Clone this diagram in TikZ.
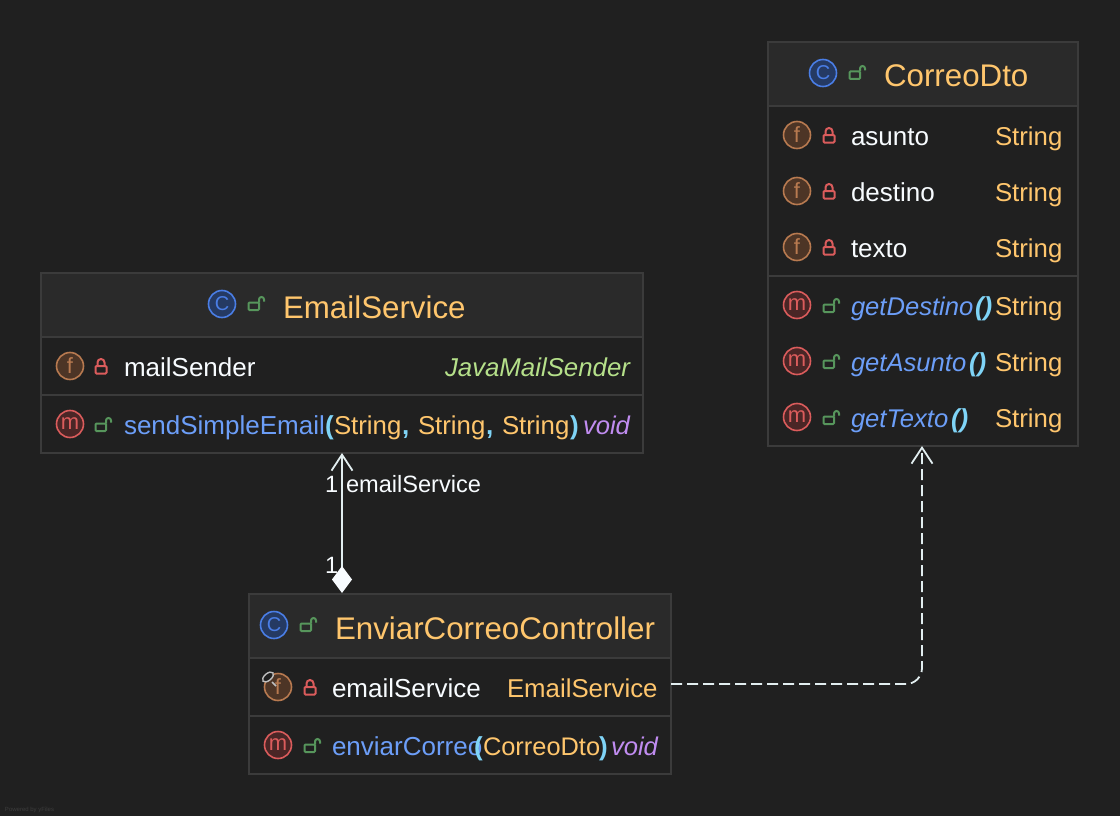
\documentclass[tikz,border=0pt]{standalone}
\usepackage{fontspec}
\setmainfont{Liberation Sans}
\usetikzlibrary{arrows.meta}
\definecolor{bgc}{HTML}{202020}
\definecolor{headc}{HTML}{2A2A2A}
\definecolor{linec}{HTML}{3B3B3B}
\definecolor{wht}{HTML}{F8FCFF}
\definecolor{edgec}{HTML}{E2EEF0}
\definecolor{yel}{HTML}{FFC66D}
\definecolor{blu}{HTML}{6C9EF8}
\definecolor{parc}{HTML}{7FD4F7}
\definecolor{pur}{HTML}{C08CF0}
\definecolor{grn}{HTML}{B5E08A}
\definecolor{lockr}{HTML}{DB5C5C}
\definecolor{lockg}{HTML}{57965C}
\definecolor{cblue}{HTML}{4A7EE6}
\definecolor{cfill}{HTML}{253A63}
\definecolor{fbrown}{HTML}{B87A50}
\definecolor{ffill}{HTML}{4D3526}
\definecolor{mfill}{HTML}{4A2626}
\tikzset{
  x=1pt,y=-1pt,
  umlbox/.style={draw=linec,line width=1.5pt,fill=bgc,minimum width=#1,inner sep=0,outer sep=0},
  txtbase/.style={anchor=base west,inner sep=0,outer sep=0,font=\fontsize{26}{30}\selectfont},
  titletxt/.style={txtbase,text=yel,font=\fontsize{31.3}{36}\selectfont},
  nametxt/.style={txtbase,text=wht},
  typetxt/.style={txtbase,text=yel,font=\fontsize{25.8}{30}\selectfont},
  methtxt/.style={txtbase,text=blu},
  imethtxt/.style={txtbase,text=blu,font=\fontsize{25.6}{30}\selectfont\itshape},
  parentxt/.style={txtbase,text=parc,font=\fontsize{26}{30}\selectfont\bfseries},
  iparentxt/.style={txtbase,text=parc,font=\fontsize{26}{30}\selectfont\bfseries\itshape},
  voidtxt/.style={txtbase,text=pur,font=\fontsize{25.6}{30}\selectfont\itshape},
  grntxt/.style={txtbase,text=grn,font=\fontsize{25.8}{30}\selectfont\itshape},
  lbltxt/.style={txtbase,text=wht,font=\fontsize{23.6}{28}\selectfont},
  badgebase/.style={circle,minimum size=27pt,inner sep=0,line width=1.6pt,font=\fontsize{#1}{24}\selectfont},
  cicon/.style={badgebase=20,draw=cblue,text=cblue,fill=cfill},
  ficon/.style={badgebase=22,draw=fbrown,text=fbrown,fill=ffill},
  micon/.style={badgebase=22,draw=lockr,text=lockr,fill=mfill},
  sepline/.style={draw=linec,line width=1.5pt},
  edgeline/.style={draw=edgec,line width=1.8pt},
  openlock/.pic={
    \draw[lockg,line width=2pt,rounded corners=1pt] (-7.5,-1.5) rectangle (3,6);
    \draw[lockg,line width=2pt] (3,-1.5) -- (3,-4.5) arc[start angle=180,end angle=360,x radius=2.5,y radius=2.5] -- (8,-2.5);
  },
  closedlock/.pic={
    \draw[lockr,line width=2pt,rounded corners=1pt] (-5.5,0) rectangle (5.5,7.5);
    \draw[lockr,line width=2pt] (-3.5,0) -- (-3.5,-3.5) arc[start angle=180,end angle=360,x radius=3.5,y radius=3.5] -- (3.5,0);
  },
}
\begin{document}
\begin{tikzpicture}
\useasboundingbox (0,0) rectangle (1120,816);
\fill[bgc] (0,0) rectangle (1120,816);

% class boxes
\node[umlbox=602pt,minimum height=180pt,anchor=north west] (svc) at (41,273) {};
\node[umlbox=310pt,minimum height=404pt,anchor=north west] (dto) at (768,42) {};
\node[umlbox=422pt,minimum height=180pt,anchor=north west] (ctl) at (249,594) {};

% headers
\fill[headc] (42,274) rectangle (642,337);
\fill[headc] (769,43) rectangle (1077,106);
\fill[headc] (250,595) rectangle (670,658);
\draw[sepline] (41,337) -- (643,337);
\draw[sepline] (41,395) -- (643,395);
\draw[sepline] (768,106) -- (1078,106);
\draw[sepline] (768,276) -- (1078,276);
\draw[sepline] (249,658) -- (671,658);
\draw[sepline] (249,716) -- (671,716);

% CorreoDto
\node[cicon] (dtoC) at (823,73) {C};
\pic at (857,73) {openlock};
\node[titletxt] (dtoT) at (884,87) {CorreoDto};
\node[ficon] (dtoF1) at (797,135) {f};
\pic at (829,135) {closedlock};
\node[nametxt] (dtoN1) at (851,145) {asunto};
\node[typetxt] (dtoY1) at (995,145) {String};
\node[ficon] (dtoF2) at (797,191) {f};
\pic at (829,191) {closedlock};
\node[nametxt] (dtoN2) at (851,201) {destino};
\node[typetxt] (dtoY2) at (995,201) {String};
\node[ficon] (dtoF3) at (797,247) {f};
\pic at (829,247) {closedlock};
\node[nametxt] (dtoN3) at (851,257) {texto};
\node[typetxt] (dtoY3) at (995,257) {String};
\node[micon] (dtoM1) at (797,305) {m};
\pic at (831,306) {openlock};
\node[imethtxt] (dtoG1) at (851,315) {getDestino};
\node[iparentxt] (dtoP1) at (975,315) {()};
\node[typetxt] (dtoR1) at (995,315) {String};
\node[micon] (dtoM2) at (797,361) {m};
\pic at (831,362) {openlock};
\node[imethtxt] (dtoG2) at (851,371) {getAsunto};
\node[iparentxt] (dtoP2) at (969,371) {()};
\node[typetxt] (dtoR2) at (995,371) {String};
\node[micon] (dtoM3) at (797,417) {m};
\pic at (831,418) {openlock};
\node[imethtxt] (dtoG3) at (851,427) {getTexto};
\node[iparentxt] (dtoP3) at (951,427) {()};
\node[typetxt] (dtoR3) at (995,427) {String};

% EmailService
\node[cicon] (svcC) at (222,304) {C};
\pic at (256,304) {openlock};
\node[titletxt] (svcT) at (283,318) {EmailService};
\node[ficon] (svcF) at (70,366) {f};
\pic at (101,366) {closedlock};
\node[nametxt] (svcN) at (124,376) {mailSender};
\node[grntxt,anchor=base east] (svcY) at (630,376) {JavaMailSender};
\node[micon] (svcM) at (70,424) {m};
\pic at (103,425) {openlock};
\node[methtxt] (svcS) at (124,434) {sendSimpleEmail};
\node[parentxt] (svcP1) at (325,434) {(};
\node[typetxt] (svcA1) at (334,434) {String};
\node[parentxt] (svcC1) at (402,434) {,};
\node[typetxt] (svcA2) at (418,434) {String};
\node[parentxt] (svcC2) at (486,434) {,};
\node[typetxt] (svcA3) at (502,434) {String};
\node[parentxt] (svcP2) at (570,434) {)};
\node[voidtxt] (svcV) at (583,434) {void};

% EnviarCorreoController
\node[cicon] (ctlC) at (274,625) {C};
\pic at (308,625) {openlock};
\node[titletxt] (ctlT) at (335,639) {EnviarCorreoController};
\node[ficon] (ctlF) at (278,687) {f};
\pic at (310,687) {closedlock};
\draw[fill=bgc,draw=white!75!black,line width=1.4pt,rotate around={40:(268,677)}] (268,677) ellipse[x radius=6.5,y radius=3.5];
\draw[white!75!black,line width=1.6pt] (272,682) -- (276,686);
\node[nametxt] (ctlN) at (332,697) {emailService};
\node[typetxt] (ctlY) at (507,697) {EmailService};
\node[micon] (ctlM) at (278,745) {m};
\pic at (312,746) {openlock};
\node[methtxt] (ctlS) at (332,755) {enviarCorreo};
\node[parentxt] (ctlP1) at (474,755) {(};
\node[typetxt,font=\fontsize{25.4}{30}\selectfont] (ctlA) at (483,755) {CorreoDto};
\node[parentxt] (ctlP2) at (599,755) {)};
\node[voidtxt] (ctlV) at (611,755) {void};

% connectors
\coordinate (svcBot) at (342,453);
\coordinate (diamTop) at (342,568);
\coordinate (ctlOut) at (671,684);
\coordinate (corner) at (922,684);
\coordinate (dtoBot) at (922,446);
\draw[edgeline,arrows={-Straight Barb[length=16pt,width=21pt,line width=1.8pt]}] (diamTop) -- (svcBot);
\fill[wht] (342,566) -- (352,579.5) -- (342,593) -- (332,579.5) -- cycle;
\draw[edgeline,dash pattern=on 11pt off 5pt,rounded corners=16pt,arrows={-Straight Barb[length=16pt,width=21pt,line width=1.8pt]}] (ctlOut) -- (corner) -- (dtoBot);

% labels
\node[lbltxt] (l1) at (325,492) {1};
\node[lbltxt] (l2) at (346,492) {emailService};
\node[lbltxt] (l3) at (325,573) {1};
\node[txtbase,text=white!24!black,font=\fontsize{6}{7}\selectfont] (pw) at (5,811) {Powered by yFiles};
\end{tikzpicture}
\end{document}
